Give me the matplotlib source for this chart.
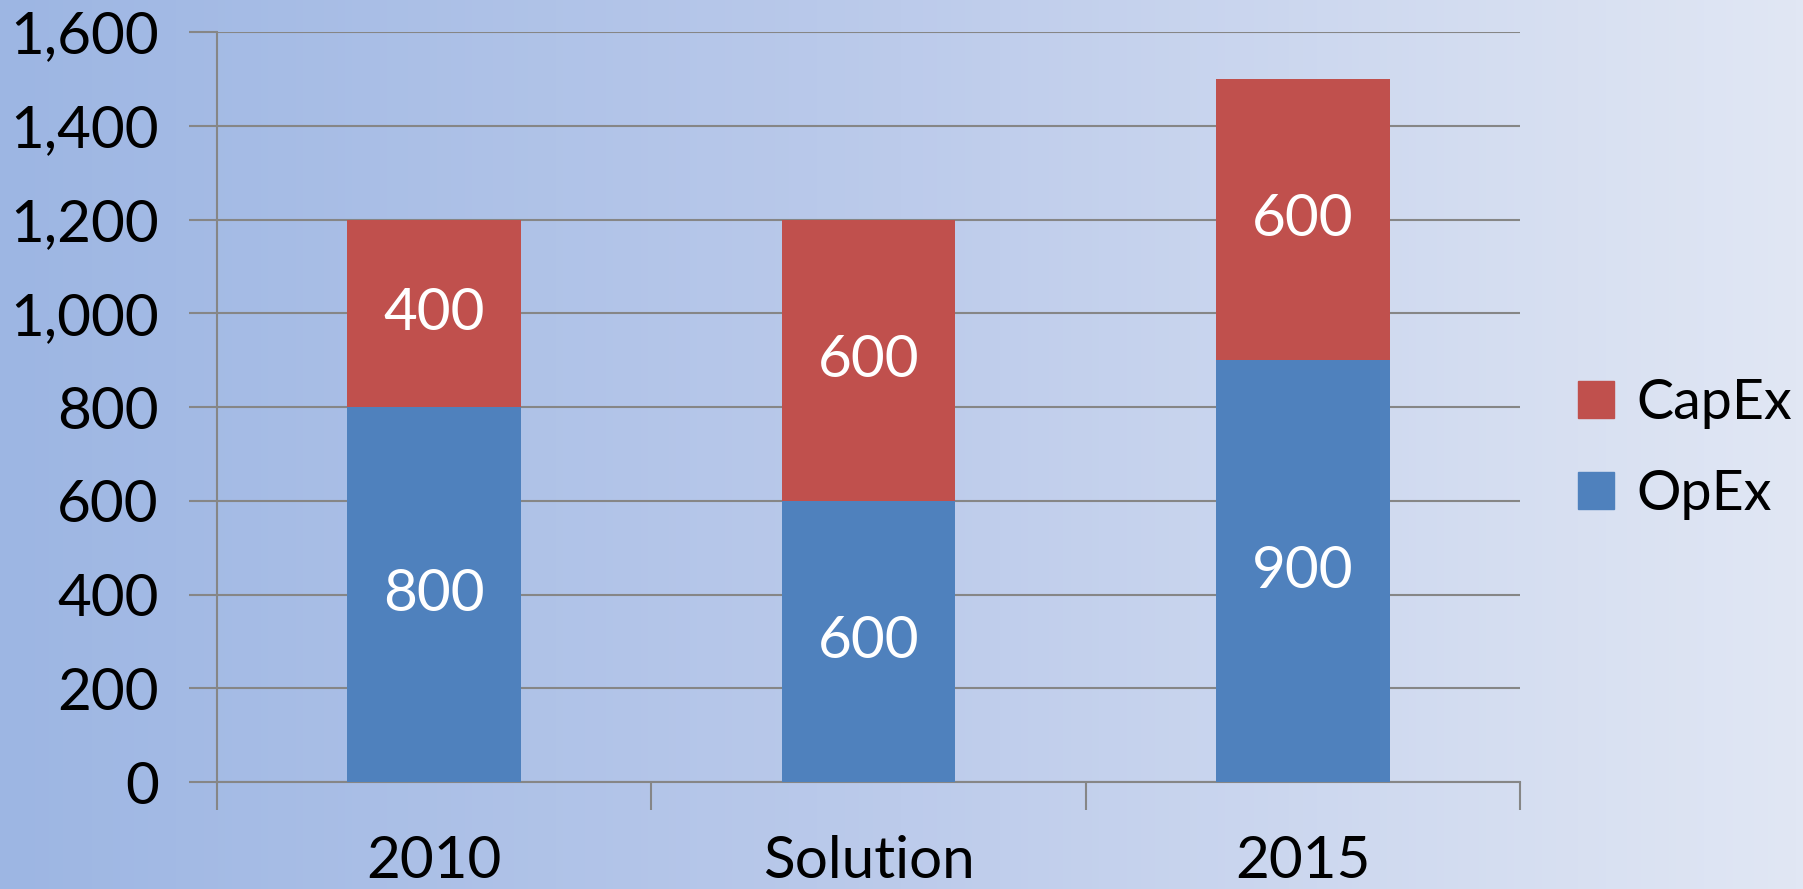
import numpy as np
import matplotlib
matplotlib.use('Agg')
import matplotlib.pyplot as plt
from matplotlib.colors import LinearSegmentedColormap
from matplotlib.patches import Patch

categories = ['2010', 'Solution', '2015']
opex = [800, 600, 900]
capex = [400, 600, 600]
yticks = [0, 200, 400, 600, 800, 1000, 1200, 1400, 1600]

plt.rcParams['font.family'] = ['Lato', 'DejaVu Sans']

fig = plt.figure(figsize=(18.03, 8.89), dpi=100)

# gradient background
bg = fig.add_axes([0, 0, 1, 1], zorder=-10)
cmap = LinearSegmentedColormap.from_list('bg', ['#9db6e3', '#bccbeb', '#e1e7f4'])
bg.imshow(np.linspace(0, 1, 256).reshape(1, -1), aspect='auto', cmap=cmap, extent=[0, 1, 0, 1])
bg.axis('off')

ax = fig.add_axes([217 / 1803, 1 - 782 / 889, (1520 - 217) / 1803, (782 - 32) / 889])
ax.patch.set_alpha(0)

x = np.arange(len(categories))
w = 0.4
ax.bar(x, opex, w, color='#4f81bd', label='OpEx', zorder=3)
ax.bar(x, capex, w, bottom=opex, color='#c0504d', label='CapEx', zorder=3)

for i in range(len(categories)):
    ax.text(x[i], opex[i] / 2, str(opex[i]), ha='center', va='center',
            color='white', fontsize=42, zorder=4)
    ax.text(x[i], opex[i] + capex[i] / 2, str(capex[i]), ha='center', va='center',
            color='white', fontsize=42, zorder=4)

ax.set_xlim(-0.5, 2.5)
ax.set_ylim(0, 1600)
ax.set_yticks(yticks)
ax.set_yticklabels([f'{v:,}' for v in yticks], fontsize=42)
ax.set_xticks([-0.5, 0.5, 1.5, 2.5])
ax.set_xticklabels([])
ax.set_xticks(x, minor=True)
ax.set_xticklabels(categories, minor=True, fontsize=42)
ax.tick_params(axis='x', which='minor', length=0, pad=38)
ax.tick_params(axis='x', which='major', length=20, width=1.5, color='#868686')
ax.tick_params(axis='y', length=20, width=1.5, color='#868686', pad=22)
ax.yaxis.grid(True, color='#868686', linewidth=1.5, zorder=0)
for s in ['top', 'right']:
    ax.spines[s].set_visible(False)
for s in ['left', 'bottom']:
    ax.spines[s].set_color('#868686')
    ax.spines[s].set_linewidth(1.5)

handles = [Patch(color='#c0504d', label='CapEx'), Patch(color='#4f81bd', label='OpEx')]
fig.legend(handles=handles, loc='center left', bbox_to_anchor=(1528 / 1803, 1 - 449 / 889),
           frameon=False, fontsize=40, handlelength=0.65, handleheight=0.65,
           handletextpad=0.4, labelspacing=0.72)

fig.savefig('out.png', dpi=100)
